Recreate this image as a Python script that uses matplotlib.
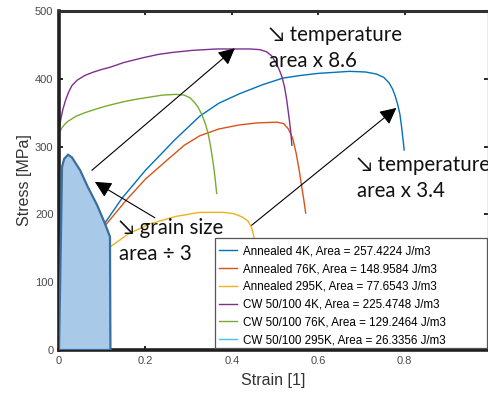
import matplotlib
matplotlib.use("Agg")
import matplotlib.pyplot as plt
from matplotlib.patches import Rectangle

# ---- data ----
ann4k_x = [0, 0.003, 0.008, 0.015, 0.025, 0.04, 0.06, 0.08, 0.106, 0.146, 0.2, 0.268, 0.326, 0.37, 0.418, 0.47,
           0.518, 0.56, 0.6, 0.673, 0.71, 0.735, 0.752, 0.764, 0.772, 0.778, 0.784, 0.789, 0.793, 0.796, 0.799]
ann4k_y = [0, 30, 55, 80, 102, 125, 150, 168, 187, 224, 265, 310, 345, 364, 378, 391,
           401, 405, 408, 411, 410, 407, 402, 394, 385, 375, 362, 348, 329, 312, 295]

ann76_x = [0, 0.003, 0.008, 0.015, 0.025, 0.04, 0.06, 0.08, 0.106, 0.157, 0.2, 0.25, 0.29, 0.326, 0.37, 0.418,
           0.46, 0.504, 0.52, 0.531, 0.541, 0.549, 0.556, 0.562, 0.567, 0.571]
ann76_y = [0, 25, 50, 75, 97, 120, 145, 163, 183, 222, 252, 280, 302, 316, 326, 332,
           335, 336, 334, 326, 312, 290, 265, 240, 220, 202]

ann295_x = [0, 0.004, 0.01, 0.02, 0.035, 0.055, 0.085, 0.118, 0.16, 0.21, 0.27, 0.326, 0.38, 0.405, 0.425,
            0.438, 0.446, 0.452, 0.458, 0.465, 0.472, 0.476]
ann295_y = [0, 25, 45, 68, 90, 113, 135, 152, 171, 186, 197, 203, 203, 201, 196,
            190, 180, 165, 140, 90, 40, 0]

cw4_x = [0, 0.0005, 0.004, 0.009, 0.015, 0.022, 0.03, 0.042, 0.06, 0.08, 0.1, 0.118, 0.15, 0.194, 0.23, 0.264,
         0.31, 0.365, 0.442, 0.465, 0.48, 0.492, 0.502, 0.51, 0.516, 0.522, 0.527, 0.531, 0.534, 0.537, 0.539]
cw4_y = [0, 325, 340, 355, 368, 380, 390, 398, 405, 410, 414, 417, 424, 431, 436, 439,
         442, 444, 444, 443, 440, 434, 424, 413, 403, 388, 369, 350, 335, 318, 302]

cw76_x = [0, 0.001, 0.006, 0.012, 0.02, 0.04, 0.06, 0.079, 0.11, 0.148, 0.18, 0.21, 0.24, 0.27, 0.29, 0.303,
          0.314, 0.322, 0.33, 0.338, 0.345, 0.351, 0.357, 0.361, 0.365]
cw76_y = [0, 320, 327, 332, 337, 345, 350, 354, 360, 366, 370, 373, 376, 377, 376, 372,
          365, 358, 348, 335, 320, 300, 275, 255, 231]

cw295_x = [0, 0.004, 0.007, 0.012, 0.021, 0.03, 0.049, 0.067, 0.088, 0.106, 0.118, 0.119]
cw295_y = [0, 150, 270, 282, 288, 284, 265, 240, 214, 187, 167, 0]

labels = ["Annealed 4K, Area = 257.4224 J/m3",
          "Annealed 76K, Area = 148.9584 J/m3",
          "Annealed 295K, Area = 77.6543 J/m3",
          "CW 50/100 4K, Area = 225.4748 J/m3",
          "CW 50/100 76K, Area = 129.2464 J/m3",
          "CW 50/100 295K, Area = 26.3356 J/m3"]
colors = ["#0072BD", "#D95319", "#EDB120", "#7E2F8E", "#77AC30", "#4DBEEE"]

xticks = [0, 0.2, 0.4, 0.6, 0.8]
xticklabels = ["0", "0.2", "0.4", "0.6", "0.8"]
yticks = [0, 100, 200, 300, 400, 500]

# annotation arrows (tail -> tip) in data coords
arrow_temp1 = ((0.076, 265), (0.407, 445))
arrow_temp2 = ((0.446, 184), (0.781, 357))
arrow_grain = ((0.222, 195), (0.083, 248))

plt.rcParams['font.family'] = ['Liberation Sans', 'DejaVu Sans']

fig = plt.figure(figsize=(4.89, 3.94), dpi=100)
ax = fig.add_axes([59/489, 44/394, 429/489, 339/394])

series = [(ann4k_x, ann4k_y), (ann76_x, ann76_y), (ann295_x, ann295_y),
          (cw4_x, cw4_y), (cw76_x, cw76_y), (cw295_x, cw295_y)]
for (x, y), c, l in zip(series, colors, labels):
    ax.plot(x, y, color=c, lw=1.0, label=l)

ax.fill(cw295_x, cw295_y, facecolor="#A9C9E8", edgecolor="#3A6F9F", lw=1.6, zorder=3)

ax.set_xlim(0, 0.993)
ax.set_ylim(0, 500)
ax.set_xticks(xticks)
ax.set_xticklabels(xticklabels)
ax.set_yticks(yticks)
ax.tick_params(direction='in', length=3, width=1.2, colors='black', labelcolor='#4a4a4a',
               labelsize=8, top=True, right=True, pad=4)
for s in ['left', 'bottom']:
    ax.spines[s].set_linewidth(2.6)
    ax.spines[s].set_color('#202020')
ax.spines['top'].set_linewidth(2.2)
ax.spines['top'].set_color('#303030')
ax.spines['right'].set_linewidth(1.0)
ax.spines['right'].set_color('#9a9a9a')

ax.set_xlabel("Strain [1]", fontsize=11.5, color='#333333', labelpad=5)
ax.set_ylabel("Stress [MPa]", fontsize=11.5, color='#333333', labelpad=2)

# legend box (wider than its contents, as in the original)
box = Rectangle((156/429, 2/339), 1 - 156/429 - 0.002, 110/339, transform=ax.transAxes,
                facecolor='white', edgecolor='#555555', lw=0.9, zorder=5)
ax.add_patch(box)
leg = ax.legend(loc='lower left', bbox_to_anchor=(156/429, 0.0), fontsize=8.4,
                frameon=False, handlelength=1.55, handletextpad=0.5, labelspacing=0.49,
                borderpad=0.34, borderaxespad=0)
leg.set_zorder(6)

for tail, tip in [arrow_temp1, arrow_temp2, arrow_grain]:
    ax.annotate('', xy=tip, xytext=tail,
                arrowprops=dict(arrowstyle='-|>,head_length=1.0,head_width=0.5',
                                color='black', lw=0.8, shrinkA=0, shrinkB=0), zorder=4)

tfont = dict(family=['Lato', 'DejaVu Sans'], fontsize=14.8, color='#111111',
             linespacing=1.38, va='top', ha='left')
ax.text(0.485, 479, "↘ temperature\narea x 8.6", **tfont, zorder=7)
ax.text(0.689, 288, "↘ temperature\narea x 3.4", **tfont, zorder=7, clip_on=False)
ax.text(0.14, 195, "↘ grain size\narea ÷ 3", **tfont, zorder=7)

fig.savefig("out.png", dpi=100)
